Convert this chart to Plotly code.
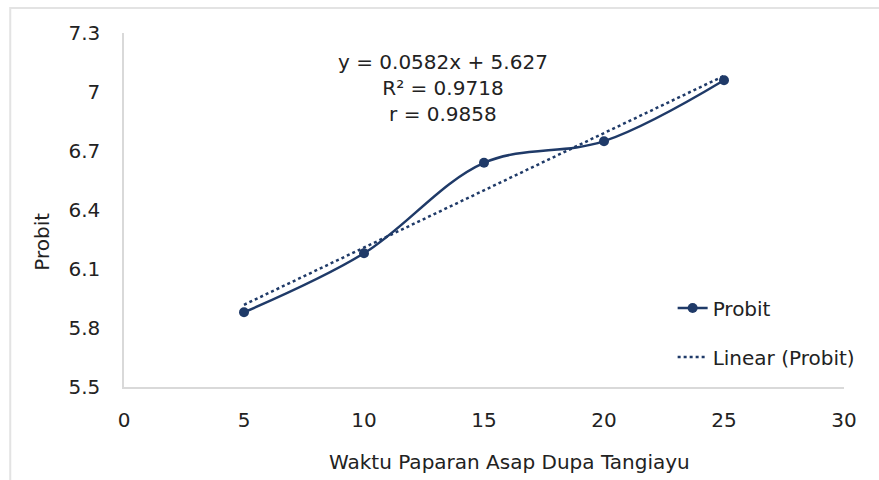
import plotly.graph_objects as go

# Data
waktu = [5, 10, 15, 20, 25]
probit = [5.88, 6.18, 6.64, 6.75, 7.06]
slope = 0.0582
intercept = 5.627
r2 = 0.9718
r = 0.9858
x_ticks = [0, 5, 10, 15, 20, 25, 30]
y_ticks = [5.5, 5.8, 6.1, 6.4, 6.7, 7.0, 7.3]
y_tick_labels = ["5.5", "5.8", "6.1", "6.4", "6.7", "7", "7.3"]

navy = "#1F3A68"
txt = "#222222"
FONT = "DejaVu Sans"
FS = 20

trend_x = [min(waktu), max(waktu)]
trend_y = [slope * v + intercept for v in trend_x]

fig = go.Figure()
fig.add_trace(go.Scatter(
    x=waktu, y=probit, mode="lines+markers", name="Probit",
    line=dict(color=navy, width=2.5, shape="spline", smoothing=1.0),
    marker=dict(color=navy, size=10), legend="legend",
))
fig.add_trace(go.Scatter(
    x=trend_x, y=trend_y, mode="lines", name="Linear (Probit)",
    line=dict(color=navy, width=2.5, dash="dot"), legend="legend2",
))

fig.update_layout(
    width=879, height=480,
    margin=dict(l=124, r=35, t=33, b=93),
    paper_bgcolor="white", plot_bgcolor="white",
    font=dict(family=FONT, size=FS, color=txt),
    showlegend=True,
    legend=dict(x=0.762, y=0.223, xanchor="left", yanchor="middle",
                bgcolor="rgba(0,0,0,0)", font=dict(size=FS, color=txt)),
    legend2=dict(x=0.762, y=0.085, xanchor="left", yanchor="middle",
                 bgcolor="rgba(0,0,0,0)", font=dict(size=FS, color=txt)),
    xaxis=dict(range=[0, 30], tickvals=x_ticks, showgrid=False, zeroline=False,
               showline=True, linecolor="#D9D9D9", linewidth=1.5,
               ticks="", ticklabelstandoff=14,
               tickfont=dict(family=FONT, size=FS, color=txt)),
    yaxis=dict(range=[5.5, 7.3], tickvals=y_ticks, ticktext=y_tick_labels,
               showgrid=False, zeroline=False,
               showline=True, linecolor="#D9D9D9", linewidth=1.5,
               ticks="", ticklabelstandoff=18,
               tickfont=dict(family=FONT, size=FS, color=txt)),
    shapes=[dict(type="rect", xref="paper", yref="paper",
                 x0=-0.158, x1=1.3, y0=-0.5, y1=1.0706,
                 line=dict(color="#E3E3E3", width=2), fillcolor="rgba(0,0,0,0)",
                 layer="below")],
    annotations=[
        dict(text=f"y = {slope}x + {intercept}<br>R² = {r2}<br>r = {r}",
             xref="paper", yref="paper", x=0.443, y=0.845,
             xanchor="center", yanchor="middle", showarrow=False,
             align="center", font=dict(family=FONT, size=FS, color=txt)),
        dict(text="Probit", xref="paper", yref="paper", x=-0.114, y=0.41,
             xanchor="center", yanchor="middle", textangle=-90, showarrow=False,
             font=dict(family=FONT, size=FS, color=txt)),
        dict(text="Waktu Paparan Asap Dupa Tangiayu", xref="paper", yref="paper",
             x=0.535, y=-0.212, xanchor="center", yanchor="middle", showarrow=False,
             font=dict(family=FONT, size=FS, color=txt)),
    ],
)

fig.write_html("out.html", config={"displayModeBar": False},
               post_script="document.body.style.margin='0';")
